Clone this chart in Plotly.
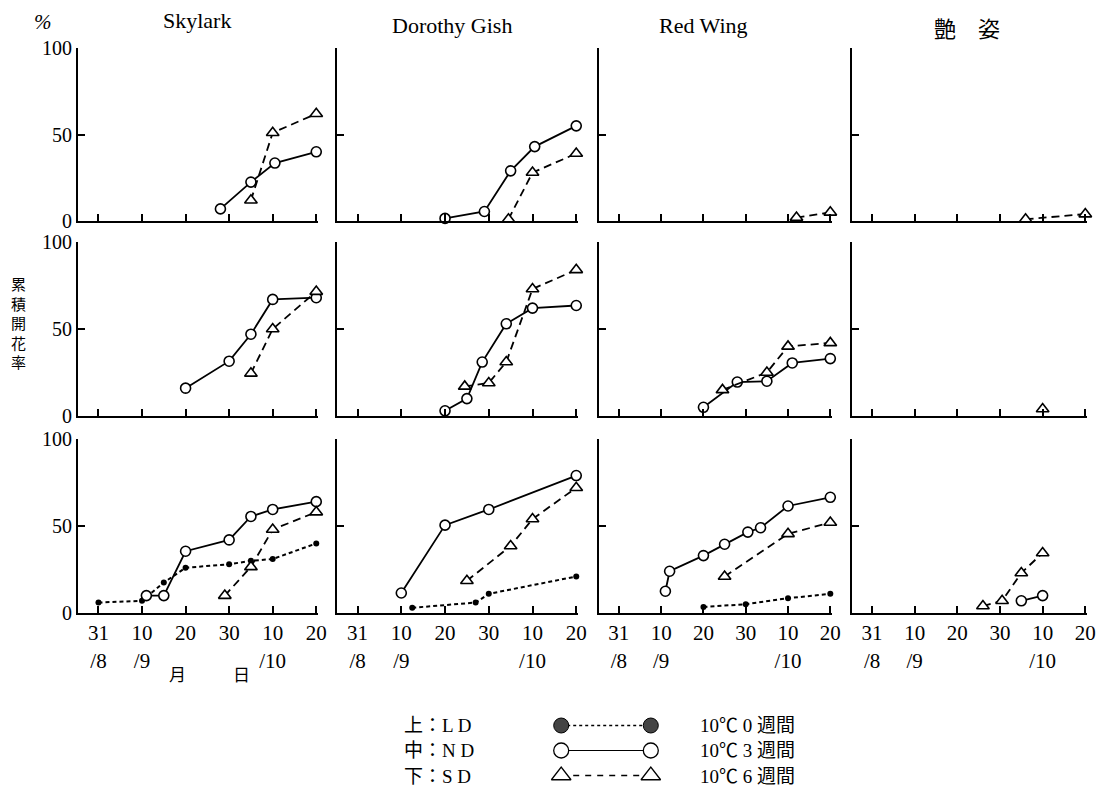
import plotly.graph_objects as go

# ---------------- data (x = days after 31 Aug; y = cumulative flowering %) ----------------
DAY_TICKS = [0, 10, 20, 30, 40, 50]
DAY_TICK_TEXT = ["31<br>/8", "10<br>/9", "20", "30", "10<br>/10", "20"]
Y_TICKS = [0, 50, 100]
CULTIVARS = ["Skylark", "Dorothy Gish", "Red Wing", "艶　姿"]
ROW_NAMES = ["LD", "ND", "SD"]

# LD (top row)
SKY_LD_3W_X = [28, 35, 40.5, 50]
SKY_LD_3W_Y = [7, 22.5, 33.5, 40]
SKY_LD_6W_X = [35, 40, 50]
SKY_LD_6W_Y = [12, 51, 62]
DG_LD_3W_X = [20, 29, 35, 40.5, 50]
DG_LD_3W_Y = [1.5, 5.5, 29, 43, 55]
DG_LD_6W_X = [34.5, 40, 50]
DG_LD_6W_Y = [1, 28, 39]
RW_LD_6W_X = [42, 50]
RW_LD_6W_Y = [2, 5]
TS_LD_6W_X = [36, 50]
TS_LD_6W_Y = [1, 4]

# ND (middle row)
SKY_ND_3W_X = [20, 30, 35, 40, 50]
SKY_ND_3W_Y = [16, 31.5, 47, 67, 68]
SKY_ND_6W_X = [35, 40, 50]
SKY_ND_6W_Y = [24.5, 50, 71.5]
DG_ND_3W_X = [20, 25, 28.5, 34, 40, 50]
DG_ND_3W_Y = [3, 10, 31, 53, 62, 63.5]
DG_ND_6W_X = [24.5, 30, 34, 40, 50]
DG_ND_6W_Y = [17, 19, 31, 73, 84]
RW_ND_3W_X = [20, 28, 35, 41, 50]
RW_ND_3W_Y = [5, 19.5, 20, 30.5, 33]
RW_ND_6W_X = [24.5, 35, 40, 50]
RW_ND_6W_Y = [15, 25, 40, 42]
TS_ND_6W_X = [40]
TS_ND_6W_Y = [4]

# SD (bottom row)
SKY_SD_0W_X = [0, 10, 15, 20, 30, 35, 40, 50]
SKY_SD_0W_Y = [6, 7, 17.5, 26, 28, 30, 31, 40]
SKY_SD_3W_X = [11, 15, 20, 30, 35, 40, 50]
SKY_SD_3W_Y = [10, 10, 35.5, 42, 55.5, 59.5, 64]
SKY_SD_6W_X = [29, 35, 40, 50]
SKY_SD_6W_Y = [10, 26.5, 48, 58]
DG_SD_0W_X = [12.5, 27, 30, 50]
DG_SD_0W_Y = [3, 6, 11, 21]
DG_SD_3W_X = [10, 20, 30, 50]
DG_SD_3W_Y = [11.5, 50.5, 59.5, 79]
DG_SD_6W_X = [25, 35, 40, 50]
DG_SD_6W_Y = [18.5, 38.5, 54, 72]
RW_SD_0W_X = [20, 30, 40, 50]
RW_SD_0W_Y = [3.5, 5, 8.5, 11]
RW_SD_3W_X = [11, 12, 20, 25, 30.5, 33.5, 40, 50]
RW_SD_3W_Y = [12.5, 24, 33, 39.5, 46.5, 49, 61.5, 66.5]
RW_SD_6W_X = [25, 40, 50]
RW_SD_6W_Y = [21, 45.5, 52]
TS_SD_3W_X = [35, 40]
TS_SD_3W_Y = [7, 10]
TS_SD_6W_X = [26, 30.5, 35, 40]
TS_SD_6W_Y = [4, 7, 23, 34.5]

LEGEND_LEFT = ["上：L D", "中：N D", "下：S D"]
LEGEND_RIGHT = ["10℃ 0 週間", "10℃ 3 週間", "10℃ 6 週間"]

# panel series: (row, col) -> list of (kind, x, y)
PANELS = {
    (0, 0): [("3w", SKY_LD_3W_X, SKY_LD_3W_Y), ("6w", SKY_LD_6W_X, SKY_LD_6W_Y)],
    (0, 1): [("3w", DG_LD_3W_X, DG_LD_3W_Y), ("6w", DG_LD_6W_X, DG_LD_6W_Y)],
    (0, 2): [("6w", RW_LD_6W_X, RW_LD_6W_Y)],
    (0, 3): [("6w", TS_LD_6W_X, TS_LD_6W_Y)],
    (1, 0): [("3w", SKY_ND_3W_X, SKY_ND_3W_Y), ("6w", SKY_ND_6W_X, SKY_ND_6W_Y)],
    (1, 1): [("3w", DG_ND_3W_X, DG_ND_3W_Y), ("6w", DG_ND_6W_X, DG_ND_6W_Y)],
    (1, 2): [("3w", RW_ND_3W_X, RW_ND_3W_Y), ("6w", RW_ND_6W_X, RW_ND_6W_Y)],
    (1, 3): [("6w", TS_ND_6W_X, TS_ND_6W_Y)],
    (2, 0): [("0w", SKY_SD_0W_X, SKY_SD_0W_Y), ("3w", SKY_SD_3W_X, SKY_SD_3W_Y), ("6w", SKY_SD_6W_X, SKY_SD_6W_Y)],
    (2, 1): [("0w", DG_SD_0W_X, DG_SD_0W_Y), ("3w", DG_SD_3W_X, DG_SD_3W_Y), ("6w", DG_SD_6W_X, DG_SD_6W_Y)],
    (2, 2): [("0w", RW_SD_0W_X, RW_SD_0W_Y), ("3w", RW_SD_3W_X, RW_SD_3W_Y), ("6w", RW_SD_6W_X, RW_SD_6W_Y)],
    (2, 3): [("3w", TS_SD_3W_X, TS_SD_3W_Y), ("6w", TS_SD_6W_X, TS_SD_6W_Y)],
}

# ---------------- layout geometry ----------------
W, H = 1117, 805
COL_PX = [(78, 318), (337, 578), (599, 832), (852, 1087)]
ROW_PX = [(48, 221), (242, 416), (439, 613)]
X_RANGE = [-4.7, 50.4]

SERIF = "Liberation Serif, Noto Sans CJK JP, serif"
CJK = "Noto Sans CJK JP, sans-serif"

STYLE = {
    "0w": dict(line=dict(color="black", width=2, dash="4px,3px"),
               marker=dict(symbol="circle", size=6, color="black", line=dict(width=0))),
    "3w": dict(line=dict(color="black", width=1.8),
               marker=dict(symbol="circle", size=10, color="white", line=dict(color="black", width=1.6))),
    "6w": dict(line=dict(color="black", width=1.8, dash="8px,5px"),
               marker=dict(symbol="triangle-up", size=11, color="white", line=dict(color="black", width=1.6))),
}
ORDER = {"0w": 0, "3w": 1, "6w": 2}

fig = go.Figure()
layout = dict(template="none", width=W, height=H,
              margin=dict(l=0, r=0, t=0, b=0, pad=0, autoexpand=False),
              paper_bgcolor="white", plot_bgcolor="white", showlegend=False,
              font=dict(family=SERIF, color="black"))

for r in range(3):
    for c in range(4):
        i = r * 4 + c + 1
        xa = "xaxis" if i == 1 else f"xaxis{i}"
        ya = "yaxis" if i == 1 else f"yaxis{i}"
        xr = "x" if i == 1 else f"x{i}"
        yr = "y" if i == 1 else f"y{i}"
        x0, x1 = COL_PX[c]
        y0, y1 = ROW_PX[r]
        layout[xa] = dict(domain=[x0 / W, x1 / W], range=X_RANGE, anchor=yr, automargin=False,
                          showline=True, linecolor="black", linewidth=2,
                          ticks="inside", ticklen=7, tickwidth=1.5, tickcolor="black",
                          tickvals=DAY_TICKS, ticktext=DAY_TICK_TEXT,
                          showticklabels=(r == 2), tickfont=dict(size=21, family=SERIF, color="black"),
                          showgrid=False, zeroline=False, fixedrange=True)
        layout[ya] = dict(domain=[1 - y1 / H, 1 - y0 / H], range=[0, 100], anchor=xr, automargin=False,
                          showline=True, linecolor="black", linewidth=2,
                          ticks="inside", ticklen=7, tickwidth=1.5, tickcolor="black",
                          tickvals=Y_TICKS, showticklabels=(c == 0),
                          tickfont=dict(size=20, family=SERIF, color="black"),
                          showgrid=False, zeroline=False, fixedrange=True)
        for kind, xs, ys in sorted(PANELS[(r, c)], key=lambda s: ORDER[s[0]]):
            st = STYLE[kind]
            fig.add_trace(go.Scatter(x=xs, y=ys, mode="lines+markers", xaxis=xr, yaxis=yr,
                                     line=st["line"], marker=st["marker"], cliponaxis=False,
                                     hoverinfo="skip"))

# legend sample axis
LEG_X = [550, 662]
LEG_Y = [713, 788]
layout["xaxis13"] = dict(domain=[LEG_X[0] / W, LEG_X[1] / W], range=[0, 1], anchor="y13",
                         visible=False, fixedrange=True, automargin=False)
layout["yaxis13"] = dict(domain=[1 - LEG_Y[1] / H, 1 - LEG_Y[0] / H], range=[0, 3], anchor="x13",
                         visible=False, fixedrange=True, automargin=False)
LEG_KINDS = ["0w", "3w", "6w"]
LEG_MARK = {
    "0w": dict(symbol="circle", size=15, color="#444", line=dict(color="black", width=1)),
    "3w": dict(symbol="circle", size=15, color="white", line=dict(color="black", width=1.3)),
    "6w": dict(symbol="triangle-up", size=17, color="white", line=dict(color="black", width=1.3)),
}
LEG_LINE = {
    "0w": dict(color="black", width=1.6, dash="dot"),
    "3w": dict(color="black", width=1.2),
    "6w": dict(color="black", width=1.3, dash="6px,6px"),
}
for k, kind in enumerate(LEG_KINDS):
    yy = 2.5 - k
    fig.add_trace(go.Scatter(x=[0.1, 0.9], y=[yy, yy], mode="lines+markers", xaxis="x13", yaxis="y13",
                             line=LEG_LINE[kind], marker=LEG_MARK[kind], cliponaxis=False,
                             hoverinfo="skip"))

annotations = []
def px_ann(text, x, y, size=18, family=SERIF, xanchor="center", **kw):
    annotations.append(dict(text=text, x=x / W, y=1 - y / H, xref="paper", yref="paper",
                            showarrow=False, xanchor=xanchor, yanchor="middle",
                            font=dict(size=size, family=family, color="black"), **kw))

px_ann("<i>%</i>", 43, 22, size=21)
TITLE_X = [197, 452, 703, 967]
TITLE_Y = [21, 26, 26, 27]
for name, tx, ty in zip(CULTIVARS, TITLE_X, TITLE_Y):
    px_ann(name, tx, ty, size=22, family=SERIF if name.isascii() else CJK)
px_ann("累<br>積<br>開<br>花<br>率", 19, 322, size=15, family=CJK)
px_ann("月", 177, 673, size=17, family=CJK)
px_ann("日", 241, 673, size=17, family=CJK)
for k in range(3):
    yy = 725 + k * 25.5
    px_ann(LEGEND_LEFT[k], 402, yy, size=19, family=SERIF, xanchor="left")
    px_ann(LEGEND_RIGHT[k], 698, yy, size=19, family=SERIF, xanchor="left")

layout["annotations"] = annotations
fig.update_layout(**layout)
fig.write_html("out.html", config={"displayModeBar": False},
               post_script="document.body.style.margin='0';document.body.style.padding='0';")
